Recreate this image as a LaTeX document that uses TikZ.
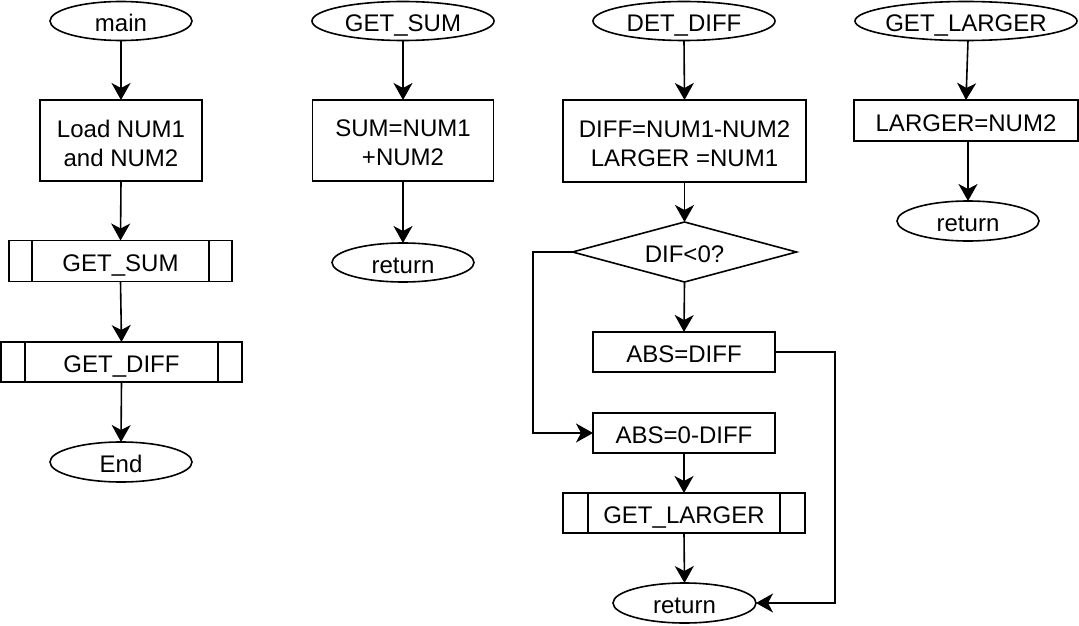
\documentclass[tikz,border=0pt]{standalone}
\usepackage{fontspec}
\setmainfont{Liberation Sans}
\usetikzlibrary{shapes.geometric,arrows.meta}
\newcommand\zw[1]{\makebox[0pt]{#1}}
\tikzset{
  txt/.style={font=\fontsize{24}{29}\selectfont, align=center, inner sep=0pt},
  base/.style={draw=black, line width=1.6pt, inner sep=0pt, outer sep=0pt,
    txt, text height=21pt, text depth=0pt},
  twotext/.style={label={[txt, yshift=-2.5pt]center:#1}},
  term/.style={base, ellipse},
  procbox/.style={base, rectangle},
  subbox/.style={base, rectangle},
  decide/.style={base, diamond},
  flow/.style={line width=1.6pt, -{Stealth[length=17pt,width=19pt,inset=5pt]}},
  plain/.style={line width=1.6pt},
}
\newcommand\panels[2]{%
  \draw[plain] ([xshift=#2pt]#1.north west) -- ([xshift=#2pt]#1.south west);
  \draw[plain] ([xshift=-#2pt]#1.north east) -- ([xshift=-#2pt]#1.south east);}
\begin{document}
\begin{tikzpicture}[x=1pt,y=-1pt]
\useasboundingbox (0,0) rectangle (1079,626);
% column 1: main
\node[term, minimum width=142pt, minimum height=39pt] (main) at (121,21) {\zw{main}};
\node[procbox, minimum width=162pt, minimum height=81pt, twotext={Load NUM1\\and NUM2}] (load) at (121,140.5) {};
\node[subbox, minimum width=223pt, minimum height=41pt] (gsum) at (120.5,261) {GET\_SUM};
\panels{gsum}{23}
\node[subbox, minimum width=241pt, minimum height=40pt] (gdiff) at (121.5,362) {GET\_DIFF};
\panels{gdiff}{24}
\node[term, minimum width=142pt, minimum height=40pt] (end) at (121,462) {\zw{End}};
\draw[flow] (main.south) -- (load.north);
\draw[flow] (load.south) -- (gsum.north);
\draw[flow] (gsum.south) -- (gdiff.north);
\draw[flow] (gdiff.south) -- (end.north);
% column 2: GET_SUM
\node[term, minimum width=182pt, minimum height=39pt] (gs) at (403,21) {\zw{GET\_SUM}};
\node[procbox, minimum width=181pt, minimum height=81pt, twotext={SUM=NUM1\\+NUM2}] (sumbox) at (403,140.5) {};
\node[term, minimum width=142pt, minimum height=39pt] (ret1) at (403,262.5) {\zw{return}};
\draw[flow] (gs.south) -- (sumbox.north);
\draw[flow] (sumbox.south) -- (ret1.north);
% column 3: DET_DIFF
\node[term, minimum width=182pt, minimum height=39pt] (dd) at (684,21) {\zw{DET\_DIFF}};
\node[procbox, minimum width=243pt, minimum height=82pt, twotext={DIFF=NUM1-NUM2\\LARGER =NUM1}] (diffbox) at (684.5,141) {};
\node[decide, minimum width=224pt, minimum height=60pt] (dia) at (684.5,252) {\zw{DIF<0?}};
\node[procbox, minimum width=182pt, minimum height=40pt] (absd) at (684,352) {ABS=DIFF};
\node[procbox, minimum width=182pt, minimum height=40pt] (abs0) at (684,433) {ABS=0-DIFF};
\node[subbox, minimum width=242pt, minimum height=40pt] (glarger) at (684,513) {GET\_LARGER};
\panels{glarger}{25}
\node[term, minimum width=143pt, minimum height=40pt] (ret2) at (684.5,603) {\zw{return}};
\coordinate (lbend) at (533,252);
\coordinate (rbend) at (835,352);
\draw[flow] (dd.south) -- (diffbox.north);
\draw[flow] (diffbox.south) -- (dia.north);
\draw[flow] (dia.south) -- (absd.north);
\draw[flow] (dia.west) -- (lbend) |- (abs0.west);
\draw[flow] (absd.east) -- (rbend) |- (ret2.east);
\draw[flow] (abs0.south) -- (glarger.north);
\draw[flow] (glarger.south) -- (ret2.north);
% column 4: GET_LARGER
\node[term, minimum width=222pt, minimum height=39pt] (gl) at (966,21) {\zw{GET\_LARGER}};
\node[procbox, minimum width=224pt, minimum height=41pt] (lbox) at (966,120.5) {LARGER=NUM2};
\node[term, minimum width=142pt, minimum height=40pt] (ret3) at (968,221) {\zw{return}};
\draw[flow] ([xshift=2pt]gl.south) -- (lbox.north);
\draw[flow] ([xshift=2pt]lbox.south) -- (ret3.north);
\end{tikzpicture}
\end{document}
